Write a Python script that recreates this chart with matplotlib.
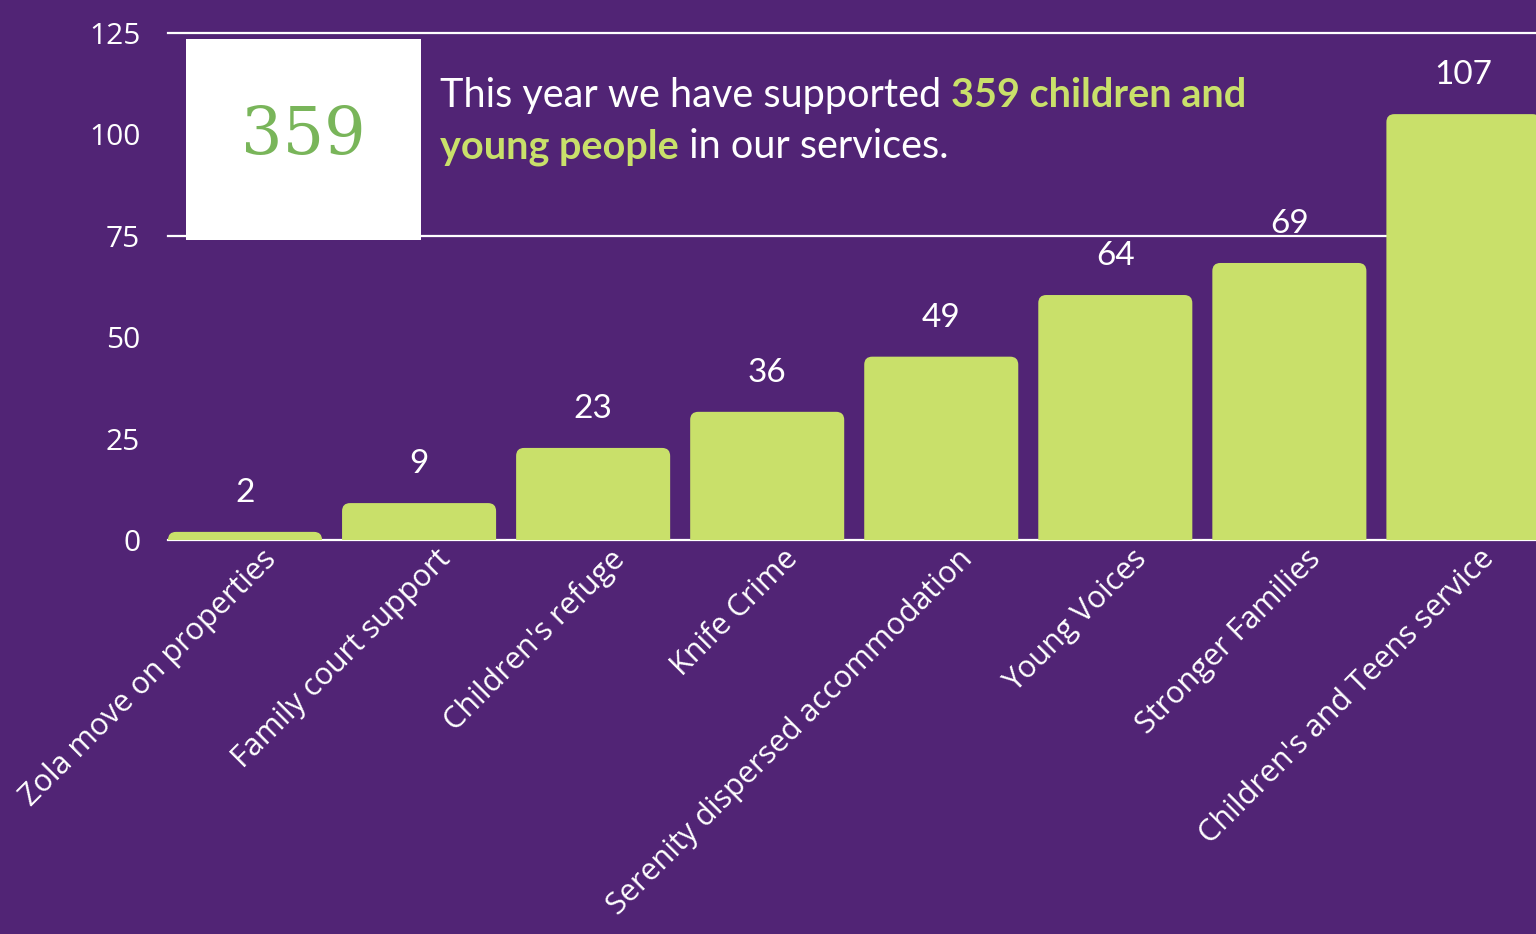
import matplotlib
matplotlib.use('Agg')
import matplotlib.pyplot as plt
from matplotlib.patches import FancyBboxPatch, Rectangle
from matplotlib.transforms import ScaledTranslation

# data
services = ['Zola move on properties', 'Family court support', "Children's refuge",
            'Knife Crime', 'Serenity dispersed accommodation', 'Young Voices',
            'Stronger Families', "Children's and Teens service"]
bar_heights = [2, 9.1, 22.7, 31.6, 45.2, 60.4, 68.3, 105]
value_labels = [2, 9, 23, 36, 49, 64, 69, 107]
y_ticks = [0, 25, 50, 75, 100, 125]
grid_lines = [75, 125]
total = 359

bg = '#512475'
lime = '#c9e06a'

plt.rcParams['font.family'] = ['Open Sans', 'DejaVu Sans']

W, H = 1536, 934
fig = plt.figure(figsize=(W / 100, H / 100), dpi=100, facecolor=bg)
ax = fig.add_axes([168 / W, 1 - 540 / H, 1368 / W, 507 / H])
ax.set_facecolor(bg)
ax.set_xlim(-0.4425, 7.417)
ax.set_ylim(0, 125)
for s in ax.spines.values():
    s.set_visible(False)

# rounded-top bars (bottom pushed under the axis and clipped)
x0, x1 = ax.get_xlim()
px_x = 1368 / (x1 - x0)
px_y = 507 / 125
aspect = px_x / px_y
bw = 0.885
for i, h in enumerate(bar_heights):
    p = FancyBboxPatch((i - bw / 2, -5), bw, h + 5,
                       boxstyle='round,pad=0,rounding_size=%f' % (8 / px_x),
                       mutation_aspect=aspect, fc=lime, ec='none', zorder=2)
    ax.add_patch(p)
    ax.annotate(str(value_labels[i]), xy=(i, h), xytext=(0, 28),
                textcoords='offset points', ha='center', va='center',
                color='white', fontsize=24, family=['Lato', 'DejaVu Sans'])

for g in grid_lines:
    ax.axhline(g, color='white', lw=1.6, zorder=1, clip_on=False)
ax.axhline(0, color='white', lw=1.6, zorder=1, clip_on=False)

ax.set_yticks(y_ticks)
ax.tick_params(axis='y', length=0, pad=20, labelsize=21.5, labelcolor='white')
ax.set_xticks([])

off = ScaledTranslation(16 / 100, -4 / 100, fig.dpi_scale_trans)
for i, name in enumerate(services):
    ax.text(i, 0, name, transform=ax.transData + off, rotation=45,
            rotation_mode='anchor', ha='right', va='top', fontsize=22,
            color='white', clip_on=False)

# white box with total
box = Rectangle((186 / W, 1 - 240 / H), 235 / W, 201 / H, transform=fig.transFigure,
                fc='white', ec='none', zorder=2.5)
fig.add_artist(box)
fig.text((186 + 421) / 2 / W, 1 - 154 / H, str(total), ha='center', va='baseline',
         fontsize=47, family='DejaVu Serif', color='#79b55a', zorder=3)

# headline text
hl = dict(fontsize=28.5, family=['Lato', 'DejaVu Sans'])
t1 = fig.text(440 / W, 1 - 107 / H, 'This year we have supported ', color='white',
              va='baseline', **hl)
ax.annotate('%d children and' % total, xy=(1, 0), xycoords=t1, va='bottom', ha='left',
            color=lime, fontweight='bold', **hl)
t3 = fig.text(440 / W, 1 - 158 / H, 'young people', color=lime, fontweight='bold',
              va='baseline', **hl)
ax.annotate(' in our services.', xy=(1, 0), xycoords=t3, va='bottom', ha='left',
            color='white', **hl)

fig.savefig('out.png', dpi=100, facecolor=bg)
